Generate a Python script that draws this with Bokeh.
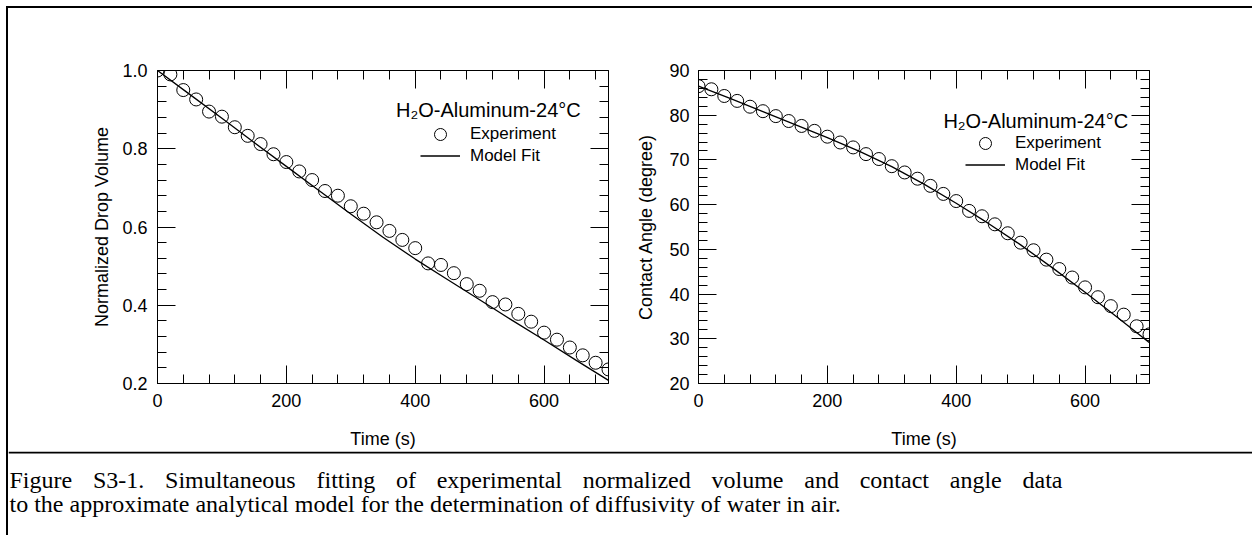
from bokeh.plotting import figure
from bokeh.models import (Range1d, LinearAxis, SingleIntervalTicker, Legend,
                          LegendItem, Label, Span, PrintfTickFormatter,
                          CustomLabelingPolicy)
from bokeh.layouts import row, column
from bokeh.embed import file_html
from bokeh.resources import INLINE

# ---------------- data ----------------
time_exp = [0, 20, 40, 60, 80, 100, 120, 140, 160, 180, 200, 220, 240, 260,
            280, 300, 320, 340, 360, 380, 400, 420, 440, 460, 480, 500, 520,
            540, 560, 580, 600, 620, 640, 660, 680, 700]
volume_exp = [1.000, 0.990, 0.950, 0.926, 0.895, 0.882, 0.855, 0.833, 0.812,
              0.786, 0.766, 0.742, 0.720, 0.692, 0.680, 0.653, 0.634, 0.612,
              0.590, 0.567, 0.546, 0.507, 0.503, 0.482, 0.454, 0.437, 0.408,
              0.402, 0.378, 0.358, 0.330, 0.312, 0.292, 0.272, 0.253, 0.236]
angle_exp = [86.5, 85.8, 84.3, 83.2, 81.9, 80.9, 79.8, 78.7, 77.6, 76.5, 75.2,
             73.9, 72.8, 71.3, 70.2, 68.6, 67.2, 65.8, 64.2, 62.4, 60.8, 58.6,
             57.4, 55.6, 53.6, 51.5, 49.8, 47.7, 45.6, 43.7, 41.5, 39.3, 37.3,
             35.4, 32.8, 31.0]

time_fit = [0, 50, 100, 150, 200, 250, 300, 350, 400, 450, 500, 550, 600, 650, 700]
volume_fit = [1.000, 0.939, 0.878, 0.816, 0.755, 0.694, 0.633, 0.574, 0.518,
              0.466, 0.414, 0.362, 0.311, 0.259, 0.208]
angle_fit = [86.5, 83.7, 80.8, 77.9, 75.0, 71.9, 68.5, 64.6, 60.3, 55.8, 51.0,
             45.8, 40.4, 34.8, 29.1]

series_labels = ["Experiment", "Model Fit"]
legend_title = "H\u2082O-Aluminum-24\u00b0C"
x_title = "Time (s)"
y_titles = ["Normalized Drop Volume", "Contact Angle (degree)"]
caption_lines = [
    "Figure S3-1. Simultaneous fitting of experimental normalized volume and contact angle data",
    "to the approximate analytical model for the determination of diffusivity of water in air.",
]

FONT = "Liberation Sans"
SERIF = "Liberation Serif"

HIDE = CustomLabelingPolicy(code="for (const i of indices) { indices.unset(i) }\nreturn indices")


def style_axis(ax, labels=True):
    ax.axis_line_color = "black"
    ax.axis_line_width = 1
    ax.major_tick_in = 18
    ax.major_tick_out = 0
    ax.minor_tick_in = 9
    ax.minor_tick_out = 0
    ax.major_tick_line_color = "black"
    ax.minor_tick_line_color = "black"
    ax.major_label_text_font = FONT
    ax.major_label_text_color = "black"
    ax.major_label_text_font_size = "18px"
    ax.axis_label_text_font = FONT
    ax.axis_label_text_font_style = "normal"
    ax.axis_label_text_font_size = "18px"
    ax.axis_label_text_color = "black"
    if not labels:
        ax.major_label_policy = HIDE
        ax.major_label_text_font_size = "1px"
        ax.major_label_standoff = 0


def make_legend(item, loc, gh):
    return Legend(items=[item], location=loc, orientation="vertical",
                  border_line_color=None, background_fill_alpha=0,
                  padding=0, margin=0, spacing=0,
                  glyph_width=40, glyph_height=gh, label_height=gh,
                  label_standoff=10, label_text_font=FONT,
                  label_text_font_size="17px", label_text_color="black")


def make_plot(width, ymin, ymax, yint, yfit, yexp, ytitle, mb_left, mb_right,
              loc_exp, loc_fit, title_xy, ystd, ylstd, yfmt):
    p = figure(width=width, height=443, x_range=Range1d(0, 700),
               y_range=Range1d(ymin, ymax), x_axis_type=None, y_axis_type=None,
               output_backend="svg", toolbar_location=None,
               min_border_left=mb_left, min_border_right=mb_right,
               min_border_top=62, min_border_bottom=66)
    p.outline_line_color = None
    p.background_fill_color = "white"
    p.border_fill_color = "white"

    xt = SingleIntervalTicker(interval=200, num_minor_ticks=5)
    yt = SingleIntervalTicker(interval=yint, num_minor_ticks=5)

    bx = LinearAxis(ticker=xt, axis_label=x_title)
    style_axis(bx)
    bx.major_label_standoff = 10
    bx.axis_label_standoff = 19
    p.add_layout(bx, "below")

    tx = LinearAxis(ticker=xt)
    style_axis(tx, labels=False)
    p.add_layout(tx, "above")

    ly = LinearAxis(ticker=yt, axis_label=ytitle)
    style_axis(ly)
    if yfmt:
        ly.formatter = PrintfTickFormatter(format=yfmt)
    ly.major_label_standoff = ystd
    ly.axis_label_standoff = ylstd
    p.add_layout(ly, "left")

    ry = LinearAxis(ticker=yt)
    style_axis(ry, labels=False)
    p.add_layout(ry, "right")

    ln = p.line(time_fit, yfit, line_color="black", line_width=1.3)
    sc = p.scatter(time_exp, yexp, marker="circle", size=13, fill_color=None,
                   line_color="black", line_width=1)

    p.add_layout(make_legend(LegendItem(label=series_labels[0], renderers=[sc]),
                             loc_exp, 30))
    p.add_layout(make_legend(LegendItem(label=series_labels[1], renderers=[ln]),
                             loc_fit, 21))

    p.add_layout(Label(x=title_xy[0], y=title_xy[1], text=legend_title,
                       text_font=FONT, text_font_size="20px",
                       text_color="black", text_baseline="alphabetic",
                       text_align="left"))
    return p


p1 = make_plot(620, 0.2, 1.0, 0.2, volume_fit, volume_exp, y_titles[0],
               149, 20, (263, 234), (263, 217), (370.2, 0.899), 10, 7, "%.1f")
p2 = make_plot(624, 20, 90, 10, angle_fit, angle_exp, y_titles[1],
               70, 103, (267, 225), (267, 208), (380.1, 78.72), 9, 10, None)

# ---- caption (Times-metric widths used to justify the first line) ----
TNR = {' ': 250, '.': 250, '-': 333, '1': 500, '3': 500, 'F': 556, 'S': 556,
       'a': 444, 'c': 444, 'd': 500, 'e': 444, 'f': 333, 'g': 500, 'i': 278,
       'l': 278, 'm': 778, 'n': 500, 'o': 500, 'p': 500, 'r': 333, 's': 389,
       't': 278, 'u': 500, 'v': 500, 'x': 500, 'z': 444, 'w': 722, 'y': 500}
CAP_SIZE = 24


def text_w(s):
    return sum(TNR.get(c, 500) for c in s) * CAP_SIZE / 1000.0


cap = figure(width=1244, height=84, x_range=Range1d(0, 1244),
             y_range=Range1d(84, 0), x_axis_type=None, y_axis_type=None,
             output_backend="svg", toolbar_location=None,
             min_border_left=0, min_border_right=0, min_border_top=0,
             min_border_bottom=0)
cap.outline_line_color = None
cap.add_layout(Span(location=1, dimension="width", line_color="black",
                    line_width=2))

line_x0, line_x1 = 1, 1054
words = caption_lines[0].split(" ")
widths = [text_w(w) for w in words]
gap = (line_x1 - line_x0 - sum(widths)) / (len(words) - 1)
xpos = line_x0
for w, wd in zip(words, widths):
    cap.add_layout(Label(x=xpos, y=28, text=w, text_font=SERIF,
                         text_font_size="%dpx" % CAP_SIZE, text_color="black",
                         text_baseline="alphabetic", text_align="left"))
    xpos += wd + gap
cap.add_layout(Label(x=line_x0, y=52, text=caption_lines[1], text_font=SERIF,
                     text_font_size="%dpx" % CAP_SIZE, text_color="black",
                     text_baseline="alphabetic", text_align="left"))

layout = column(row(p1, p2), cap, margin=(6, 0, 0, 6),
                styles={"border-left": "2px solid black",
                        "border-top": "2px solid black"})

open("out.html", "w").write(file_html(layout, INLINE))
